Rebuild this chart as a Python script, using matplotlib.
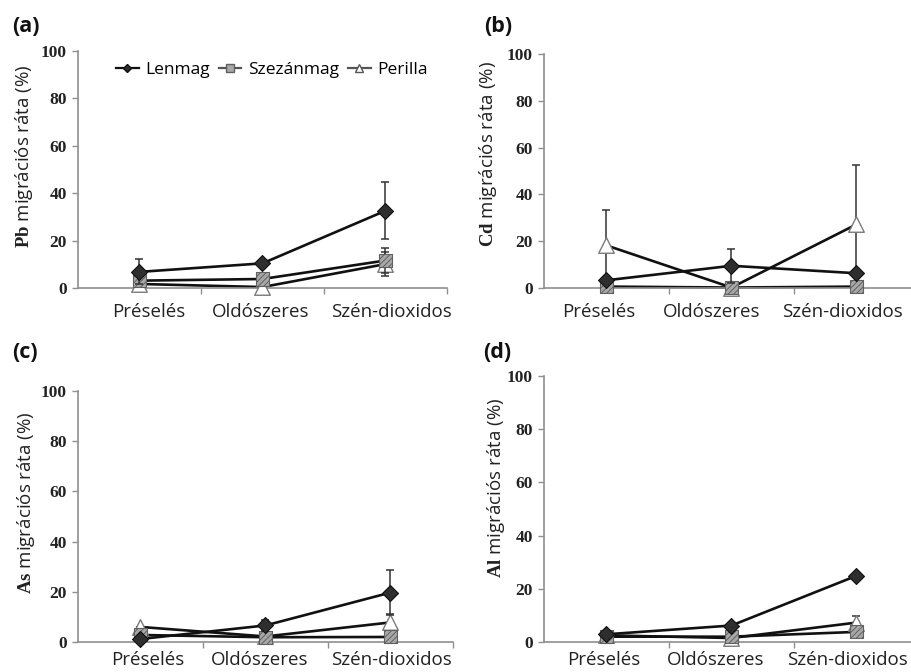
import matplotlib
matplotlib.use('Agg')
import matplotlib.pyplot as plt
from matplotlib.lines import Line2D
from matplotlib.transforms import ScaledTranslation
import numpy as np

# ---------------- data ----------------
categories = ['Préselés', 'Oldószeres', 'Szén-dioxidos']
panel_letters = ['(a)', '(b)', '(c)', '(d)']
elements = ['Pb', 'Cd', 'As', 'Al']
series_names = ['Lenmag', 'Szezánmag', 'Perilla']
yticks = [0, 20, 40, 60, 80, 100]

pb_lenmag = [6.8, 10.4, 32.6]
pb_lenmag_err = [5.3, 0, 12.0]
pb_szezan = [3.1, 3.8, 11.6]
pb_szezan_err = [0, 0, 5.4]
pb_perilla = [1.7, 0.4, 10.1]
pb_perilla_err = [0, 0, 4.9]

cd_lenmag = [3.3, 9.5, 6.3]
cd_lenmag_err = [0, 7.2, 0]
cd_szezan = [0.6, 0.2, 0.6]
cd_szezan_err = [0, 0, 0]
cd_perilla = [18.2, 0.2, 27.2]
cd_perilla_err = [15.2, 0, 25.5]

as_lenmag = [1.2, 6.6, 19.7]
as_lenmag_err = [0, 2.2, 8.8]
as_szezan = [2.8, 1.9, 2.0]
as_szezan_err = [0, 0, 0]
as_perilla = [6.0, 2.2, 7.8]
as_perilla_err = [0, 0, 3.4]

al_lenmag = [2.9, 6.2, 24.9]
al_lenmag_err = [0, 0, 0]
al_szezan = [2.0, 2.0, 3.8]
al_szezan_err = [0, 0, 0]
al_perilla = [2.5, 1.5, 7.3]
al_perilla_err = [0, 0, 2.4]

panels = [
    (pb_lenmag, pb_lenmag_err, pb_szezan, pb_szezan_err, pb_perilla, pb_perilla_err),
    (cd_lenmag, cd_lenmag_err, cd_szezan, cd_szezan_err, cd_perilla, cd_perilla_err),
    (as_lenmag, as_lenmag_err, as_szezan, as_szezan_err, as_perilla, as_perilla_err),
    (al_lenmag, al_lenmag_err, al_szezan, al_szezan_err, al_perilla, al_perilla_err),
]

# ---------------- style ----------------
plt.rcParams['font.family'] = ['Open Sans', 'DejaVu Sans']
plt.rcParams['mathtext.fontset'] = 'custom'
plt.rcParams['mathtext.bf'] = 'Liberation Serif:bold'
plt.rcParams['mathtext.rm'] = 'Open Sans'
plt.rcParams['hatch.color'] = '#444444'
plt.rcParams['hatch.linewidth'] = 0.7

W, H = 912, 672
fig = plt.figure(figsize=(W / 100, H / 100), dpi=100)

def px_box(l, r, b, t):
    return [l / W, 1 - b / H, (r - l) / W, (b - t) / H]

boxes = [
    px_box(78, 447, 288, 51),
    px_box(544, 919, 288, 54),
    px_box(78, 453, 642, 391),
    px_box(544, 919, 642, 376),
]
letter_pos = [(12, 27), (484, 26), (12, 353), (483, 353)]
ylabel_pos = [(24, 156), (488, 154), (26, 503), (496, 488)]
xlabel_pad = [11, 11, 6.5, 6.5]
# horizontal nudges of the category labels (pixels), as placed in the reference
xlabel_shift = [[9, -2, 6], [-8, -20, -14], [7, -6, 1], [-3, -16, -9]]

axis_gray = '#8f8f8f'
line_col = '#111111'

diamond_kw = dict(marker='D', s=66, facecolor='#2e2e2e', edgecolor='#111111', linewidths=0.8)
square_kw = dict(marker='s', s=88, facecolor='#a8a8a8', edgecolor='#606060', linewidths=0.8, hatch='//////')
tri_kw = dict(marker='^', s=125, facecolor='white', edgecolor='#7a7a7a', linewidths=1.0)

x = np.arange(len(categories))

for i, (ax_box, data) in enumerate(zip(boxes, panels)):
    ax = fig.add_axes(ax_box)
    len_v, len_e, sze_v, sze_e, per_v, per_e = data

    order = [(per_v, per_e, tri_kw, 3), (sze_v, sze_e, square_kw, 4), (len_v, len_e, diamond_kw, 5)]
    for vals, errs, mkw, z in order:
        ax.plot(x, vals, color=line_col, lw=1.9, zorder=2, clip_on=False)
    for vals, errs, mkw, z in order:
        errs = np.array(errs, dtype=float)
        ax.errorbar(x, vals, yerr=errs, fmt='none', ecolor='#333333', elinewidth=1.1,
                    capsize=2.6, capthick=1.1, zorder=z, clip_on=False)
        ax.scatter(x, vals, zorder=z + 0.5, clip_on=False, **mkw)

    ax.set_xlim(-0.5, 2.5)
    ax.set_ylim(0, 100)
    ax.set_yticks(yticks)
    ax.set_yticklabels([str(t) for t in yticks], fontfamily='Liberation Serif',
                       fontweight='bold', fontsize=12.5, color='#222222')
    ax.set_xticks(x)
    ax.set_xticklabels(categories, fontsize=13.5, color='#222222')
    ax.set_xticks([0.5, 1.5, 2.5], minor=True)
    ax.tick_params(axis='x', which='major', length=0, pad=xlabel_pad[i])
    ax.tick_params(axis='x', which='minor', length=4, width=1, color=axis_gray, direction='out')
    ax.tick_params(axis='y', length=4, width=1, color=axis_gray, direction='out', pad=4)
    for lab, dx in zip(ax.get_xticklabels(), xlabel_shift[i]):
        lab.set_transform(lab.get_transform() + ScaledTranslation(dx / 100, 0, fig.dpi_scale_trans))
    for sp in ['top', 'right']:
        ax.spines[sp].set_visible(False)
    for sp in ['left', 'bottom']:
        ax.spines[sp].set_color(axis_gray)
        ax.spines[sp].set_linewidth(1.2)
    ax.set_facecolor('none')

    lx, ly = letter_pos[i]
    fig.text(lx / W, 1 - ly / H, panel_letters[i], fontsize=15.5, fontweight='bold',
             ha='left', va='center', color='#111111')
    yx, yy = ylabel_pos[i]
    fig.text(yx / W, 1 - yy / H, r'$\mathbf{' + elements[i] + r'}$ migrációs ráta (%)',
             rotation=90, ha='center', va='center', fontsize=13.5, color='#222222')

    if i == 0:
        handles = [
            Line2D([], [], color=line_col, lw=1.6, marker='D', markersize=4.5,
                   markerfacecolor='#2e2e2e', markeredgecolor='#111111'),
            Line2D([], [], color='#555555', lw=1.6, marker='s', markersize=5.5,
                   markerfacecolor='#a8a8a8', markeredgecolor='#606060'),
            Line2D([], [], color='#555555', lw=1.6, marker='^', markersize=6,
                   markerfacecolor='white', markeredgecolor='#555555'),
        ]
        fig.legend(handles, series_names, loc='center left',
                   bbox_to_anchor=(116 / W, 1 - 70 / H), ncol=3, frameon=False,
                   handlelength=1.3, handletextpad=0.4, columnspacing=0.5,
                   fontsize=12.5, borderaxespad=0, borderpad=0)

fig.savefig('out.png', dpi=100)
